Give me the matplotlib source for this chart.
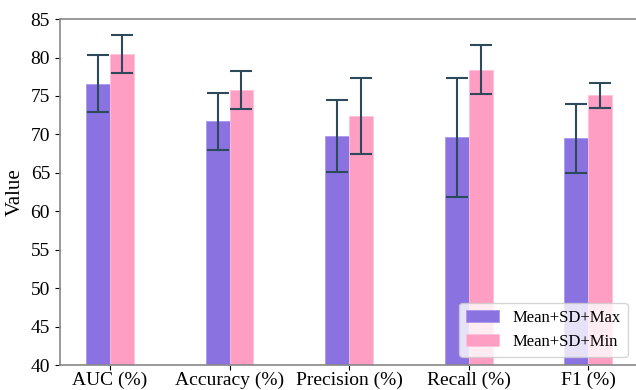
import numpy as np
import matplotlib.pyplot as plt

plt.rcParams['font.family'] = ['Liberation Serif', 'DejaVu Serif']

categorias = ["AUC (%)", "Accuracy (%)", "Precision (%)", "Recall (%)", "F1 (%)"]
media_max = [76.6, 71.7, 69.8, 69.6, 69.5]
sd_max = [3.7, 3.75, 4.7, 7.75, 4.5]
media_min = [80.5, 75.8, 72.4, 78.4, 75.1]
sd_min = [2.45, 2.5, 5.0, 3.2, 1.6]

COR_MAX = "#8a73e0"
COR_MIN = "#ff9ec3"
COR_ERR = "#2d4a5a"

fig = plt.figure(figsize=(6.36, 3.9), dpi=100)
ax = fig.add_axes([0.094, 0.064, 0.906, 0.887])

x = np.arange(len(categorias))
w = 0.2
kw_err = dict(ecolor=COR_ERR, elinewidth=1.5, capsize=8, capthick=1.5)
ax.bar(x - w / 2, media_max, w, yerr=sd_max, color=COR_MAX, edgecolor="#a898ee",
       linewidth=0.6, label="Mean+SD+Max", error_kw=kw_err)
ax.bar(x + w / 2, media_min, w, yerr=sd_min, color=COR_MIN, edgecolor="#ffc0da",
       linewidth=0.6, label="Mean+SD+Min", error_kw=kw_err)

ax.set_xticks(x)
ax.set_xticklabels(categorias, fontsize=14)
ax.tick_params(axis="x", pad=1.5)
ax.set_xlim(-0.42, 4.4)
ax.set_ylim(40, 85)
ax.set_yticks(range(40, 86, 5))
ax.tick_params(axis="y", labelsize=14)
ax.set_ylabel("Value", fontsize=15, labelpad=4)

for s in ["left", "bottom", "top"]:
    ax.spines[s].set_color("#888888")
    ax.spines[s].set_linewidth(1.2)
ax.spines["right"].set_visible(False)

ax.legend(loc="lower right", fontsize=12, framealpha=0.8)

fig.savefig("out.png", dpi=100)
